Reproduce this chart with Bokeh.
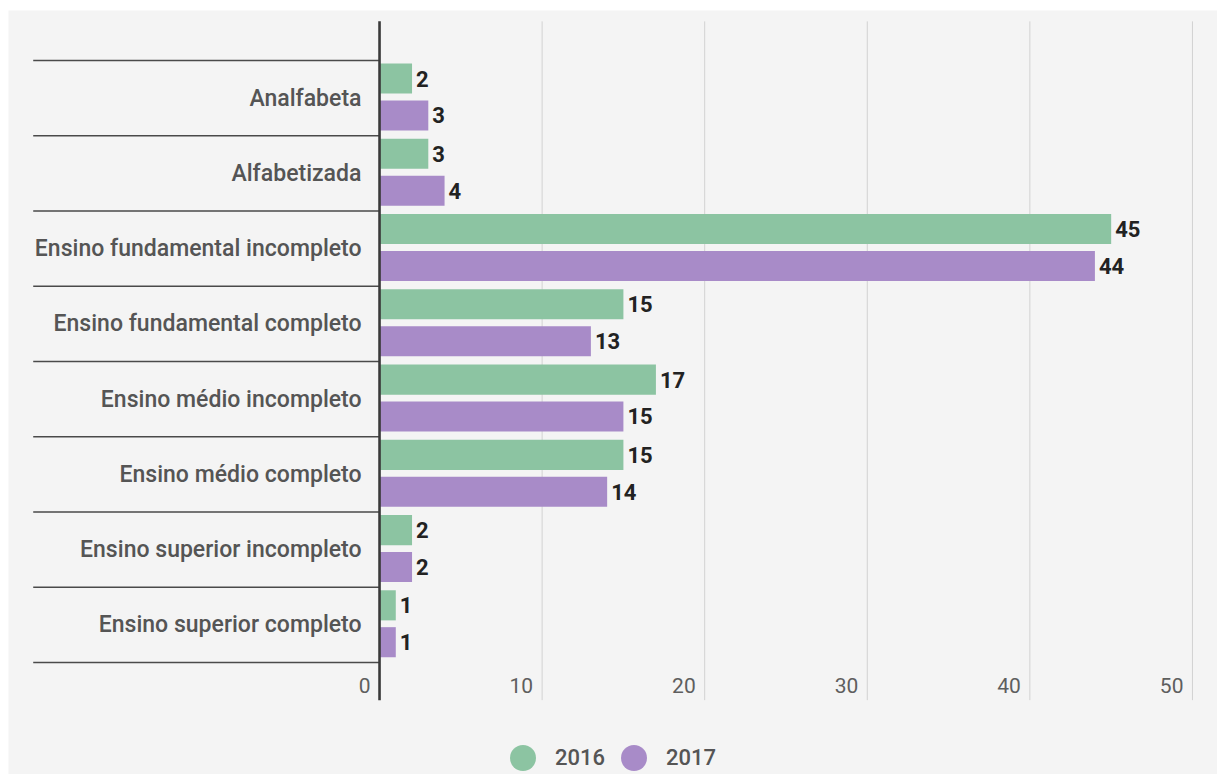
from bokeh.plotting import figure
from bokeh.models import Range1d, ColumnDataSource, Legend, LegendItem
from bokeh.embed import file_html
from bokeh.resources import INLINE
from bokeh.core.properties import value

categories = ["Analfabeta", "Alfabetizada", "Ensino fundamental incompleto",
              "Ensino fundamental completo", "Ensino médio incompleto",
              "Ensino médio completo", "Ensino superior incompleto",
              "Ensino superior completo"]
series_names = ["2016", "2017"]
values_2016 = [2, 3, 45, 15, 17, 15, 2, 1]
values_2017 = [3, 4, 44, 13, 15, 14, 2, 1]
x_ticks = [0, 10, 20, 30, 40, 50]
tick_labels = ["0", "10", "20", "30", "40", "50"]

GREEN = "#8cc4a2"
PURPLE = "#a88bc8"
BG = "#f4f4f4"
FONT = "Roboto"
FONT_MED = "Roboto Medium, Roboto"

p = figure(width=1217, height=774, output_backend="svg", toolbar_location=None,
           x_range=Range1d(-22.82, 51.54), y_range=Range1d(9.488, -0.6645),
           min_border_left=8, min_border_top=10, min_border_right=0, min_border_bottom=0)
p.background_fill_color = BG
p.border_fill_color = "white"
p.outline_line_color = None
p.axis.visible = False
p.grid.visible = False

n = len(categories)
idx = list(range(n))
OFF_A, OFF_B, BAR_H = 0.24, 0.73, 0.4
AX_TOP, AX_BOT = -0.52, 8.5

# vertical gridlines
gx = [t for t in x_ticks if t != 0]
p.segment(x0=gx, x1=gx, y0=[AX_TOP] * len(gx), y1=[AX_BOT] * len(gx),
          line_color="#d2d2d2", line_width=1)

# bars
src = ColumnDataSource(dict(
    ya=[i + OFF_A for i in idx], yb=[i + OFF_B for i in idx],
    ycat=[i + 0.5 for i in idx],
    v16=values_2016, v17=values_2017, cat=categories,
    l16=[str(v) for v in values_2016], l17=[str(v) for v in values_2017]))
p.hbar(y="ya", left=0, right="v16", height=BAR_H, fill_color=GREEN, line_color=None, source=src)
p.hbar(y="yb", left=0, right="v17", height=BAR_H, fill_color=PURPLE, line_color=None, source=src)

# value labels
for ycol, vcol, lcol in (("ya", "v16", "l16"), ("yb", "v17", "l17")):
    p.text(x=vcol, y=ycol, text=lcol, source=src, x_offset=4,
           text_font=value(FONT), text_font_style="bold", text_font_size="22px",
           text_color="#222222", text_baseline="middle", text_align="left")

# category separators
seps = list(range(n + 1))
p.segment(x0=[-21.3] * len(seps), x1=[0] * len(seps), y0=seps, y1=seps,
          line_color="#4a4a4a", line_width=1.6)

# category labels
p.text(x=0, y="ycat", text="cat", source=src, x_offset=-18,
       text_font=value(FONT_MED), text_font_size="23px", text_color="#555555",
       text_baseline="middle", text_align="right")

# axis line at zero
p.segment(x0=[0], x1=[0], y0=[AX_TOP], y1=[AX_BOT], line_color="#3a3a3a", line_width=2.6)

# x tick labels
p.text(x=x_ticks, y=[8.31] * len(x_ticks), text=tick_labels, x_offset=-9,
       text_font=value(FONT), text_font_size="21px", text_color="#5e5e5e",
       text_baseline="middle", text_align="right")

# legend (circle markers; the scatter itself is drawn at size 0)
r16 = p.scatter(x="v16", y="ya", source=src, marker="circle", size=0,
                fill_color=GREEN, line_color=None)
r17 = p.scatter(x="v17", y="yb", source=src, marker="circle", size=0,
                fill_color=PURPLE, line_color=None)
for name, r, loc in ((series_names[0], r16, (482, -16)), (series_names[1], r17, (593, -16))):
    lg = Legend(items=[LegendItem(label=name, renderers=[r])], location=loc,
                glyph_width=65, glyph_height=65, label_standoff=0, padding=0, margin=0,
                spacing=0, background_fill_alpha=0, border_line_alpha=0,
                label_text_font=FONT_MED, label_text_font_size="22px",
                label_text_color="#555555")
    p.add_layout(lg, "center")

open("out.html", "w").write(file_html(p, INLINE))
